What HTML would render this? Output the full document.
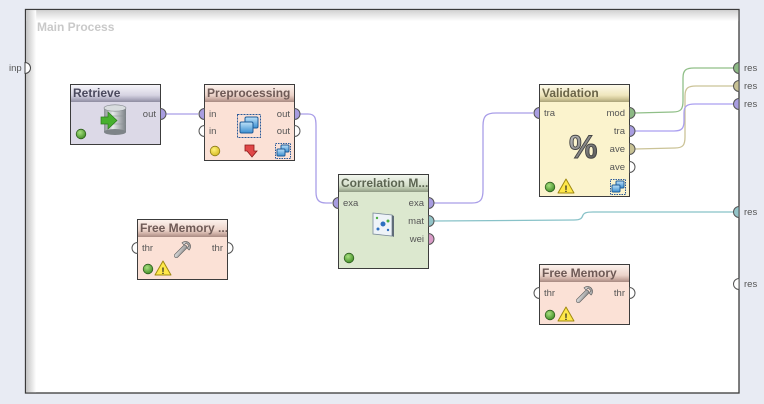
<!DOCTYPE html>
<html><head><meta charset="utf-8"><style>
html,body{margin:0;padding:0;background:#e8ebf3;}
svg{display:block;}
text{font-family:"Liberation Sans",sans-serif;}
.t{font-size:12px;font-weight:bold;}
.p{font-size:9.5px;fill:#555;}
</style></head><body>
<svg width="764" height="404" viewBox="0 0 764 404" xmlns="http://www.w3.org/2000/svg">
<defs>
<linearGradient id="sTop" x1="0" y1="0" x2="0" y2="1"><stop offset="0" stop-color="#d2d2d2"/><stop offset="1" stop-color="#ffffff"/></linearGradient>
<linearGradient id="sLeft" x1="0" y1="0" x2="1" y2="0"><stop offset="0" stop-color="#c4c4c4"/><stop offset="1" stop-color="#ffffff"/></linearGradient>
<linearGradient id="hR" x1="0" y1="0" x2="0" y2="1"><stop offset="0" stop-color="#f6f5fa"/><stop offset="0.6" stop-color="#d6d3e2"/><stop offset="0.8" stop-color="#b3b0c4"/><stop offset="1" stop-color="#8e8ca0"/></linearGradient>
<linearGradient id="hP" x1="0" y1="0" x2="0" y2="1"><stop offset="0" stop-color="#fcf1ec"/><stop offset="0.6" stop-color="#ecd3c9"/><stop offset="0.8" stop-color="#cfb0a6"/><stop offset="1" stop-color="#a88a82"/></linearGradient>
<linearGradient id="hC" x1="0" y1="0" x2="0" y2="1"><stop offset="0" stop-color="#f2f6ee"/><stop offset="0.6" stop-color="#d6e0cc"/><stop offset="0.8" stop-color="#b5c2a8"/><stop offset="1" stop-color="#8f9a84"/></linearGradient>
<linearGradient id="hV" x1="0" y1="0" x2="0" y2="1"><stop offset="0" stop-color="#fdfaea"/><stop offset="0.6" stop-color="#efe6bd"/><stop offset="0.8" stop-color="#d3c99a"/><stop offset="1" stop-color="#aaa27a"/></linearGradient>
<radialGradient id="gd" cx="0.4" cy="0.35" r="0.7"><stop offset="0" stop-color="#a8e080"/><stop offset="1" stop-color="#3d8a22"/></radialGradient>
<radialGradient id="yd" cx="0.4" cy="0.35" r="0.7"><stop offset="0" stop-color="#fff27a"/><stop offset="1" stop-color="#d4b820"/></radialGradient>
<linearGradient id="cyl" x1="0" y1="0" x2="1" y2="0"><stop offset="0" stop-color="#8c9296"/><stop offset="0.4" stop-color="#e6e9ea"/><stop offset="1" stop-color="#7b8186"/></linearGradient>
<linearGradient id="bl" x1="0" y1="0" x2="0" y2="1"><stop offset="0" stop-color="#bfe2f8"/><stop offset="1" stop-color="#3a8ed0"/></linearGradient>
<linearGradient id="pct" x1="0" y1="0" x2="1" y2="1"><stop offset="0" stop-color="#c8c8c8"/><stop offset="1" stop-color="#4a4a4a"/></linearGradient>
<linearGradient id="wr" x1="0" y1="0" x2="1" y2="1"><stop offset="0" stop-color="#e8e8e8"/><stop offset="1" stop-color="#8a8a8a"/></linearGradient>
</defs>

<!-- frame -->
<rect x="25.5" y="9.5" width="713.5" height="383.5" fill="#ffffff" stroke="#3a3a3a" stroke-width="1.3"/>
<rect x="26.2" y="10.2" width="712" height="11" fill="url(#sTop)"/>
<rect x="26.2" y="10.2" width="10" height="382" fill="url(#sLeft)"/>
<text x="37" y="31" class="t" fill="#c9c9c9">Main Process</text>

<!-- connections -->
<g fill="none" stroke-width="1.3">
<path d="M166,114 L198,114" stroke="#a99ee8"/>
<path d="M300,114 L308,114 C315,114 316,118 316,126 L316,192 C316,200 319,203 326,203 L332,203" stroke="#a99ee8"/>
<path d="M434,203 L472,203 C481,203 483,199 483,190 L483,126 C483,116 486,113 496,113 L533,113" stroke="#a99ee8"/>
<path d="M434,221 L574,220 C581,220 582,218 583,215 C584,213 586,212 593,212 L733,212" stroke="#88c2c8"/>
<path d="M635,113 L673,112 C681,112 683,109 683,101 L683,78 C683,70 686,68 694,68 L733,68" stroke="#90bf88"/>
<path d="M635,149 L675,148 C683,148 685,145 685,137 L685,96 C685,88 688,86 696,86 L733,86" stroke="#cbc397"/>
<path d="M635,131 L674,131 C682,131 684,128 684,121 L684,113 C684,106 687,104 695,104 L733,104" stroke="#aa9ff0"/>
</g>

<!-- frame ports -->
<path d="M25,62.5 A5.5,5.5 0 0 1 25,73.5 Z" fill="#fff" stroke="#444" stroke-width="1"/>
<text x="9" y="71" class="p" fill="#444">inp</text>
<g stroke="#555" stroke-width="1">
<path d="M739,62.5 A5.5,5.5 0 0 0 739,73.5 Z" fill="#8cb984"/>
<path d="M739,80.5 A5.5,5.5 0 0 0 739,91.5 Z" fill="#c8c294"/>
<path d="M739,98.5 A5.5,5.5 0 0 0 739,109.5 Z" fill="#a89de0"/>
<path d="M739,206.5 A5.5,5.5 0 0 0 739,217.5 Z" fill="#93c4c8"/>
<path d="M739,278.5 A5.5,5.5 0 0 0 739,289.5 Z" fill="#fff"/>
</g>
<text x="744" y="71" class="p">res</text>
<text x="744" y="89" class="p">res</text>
<text x="744" y="107" class="p">res</text>
<text x="744" y="215" class="p">res</text>
<text x="744" y="287" class="p">res</text>

<!-- Retrieve -->
<rect x="70.5" y="84.5" width="90" height="60" fill="#dcd9e7" stroke="#3c3c3c"/>
<rect x="71" y="85" width="89" height="17" fill="url(#hR)"/>
<text x="73" y="97" class="t" fill="#4b4a5e">Retrieve</text>
<path d="M160.5,108.5 A5.5,5.5 0 0 1 160.5,119.5 Z" fill="#a89de0" stroke="#555"/>
<text x="156" y="117" class="p" text-anchor="end">out</text>
<circle cx="81" cy="134" r="4.8" fill="url(#gd)" stroke="#2f5e20" stroke-width="0.8"/>
<g>
<rect x="104" y="108" width="22" height="24" fill="url(#cyl)"/>
<ellipse cx="115" cy="132" rx="11" ry="3" fill="#7e8488"/>
<ellipse cx="115" cy="108" rx="11" ry="3.2" fill="#d8dcde" stroke="#80868a" stroke-width="0.6"/>
<path d="M104,116 h22 M104,124 h22" stroke="#8a9094" stroke-width="0.6"/>
<path d="M101,117 L108,117 L108,112 L117,120.5 L108,129 L108,124 L101,124 Z" fill="#47b02e" stroke="#2a7a1a" stroke-width="0.7"/>
</g>

<!-- Preprocessing -->
<rect x="204.5" y="84.5" width="90" height="76" fill="#fbe1d6" stroke="#3c3c3c"/>
<rect x="205" y="85" width="89" height="17" fill="url(#hP)"/>
<text x="207" y="97" class="t" fill="#6e5a56">Preprocessing</text>
<path d="M204.5,108.5 A5.5,5.5 0 0 0 204.5,119.5 Z" fill="#a89de0" stroke="#555"/>
<path d="M204.5,125.5 A5.5,5.5 0 0 0 204.5,136.5 Z" fill="#fff" stroke="#555"/>
<path d="M294.5,108.5 A5.5,5.5 0 0 1 294.5,119.5 Z" fill="#a89de0" stroke="#555"/>
<path d="M294.5,125.5 A5.5,5.5 0 0 1 294.5,136.5 Z" fill="#fff" stroke="#555"/>
<text x="209" y="117" class="p">in</text>
<text x="209" y="134" class="p">in</text>
<text x="290" y="117" class="p" text-anchor="end">out</text>
<text x="290" y="134" class="p" text-anchor="end">out</text>
<rect x="237.5" y="114.5" width="23" height="23" fill="none" stroke="#2a5a9a" stroke-dasharray="2,1"/>
<rect x="245" y="117" width="13" height="11" rx="1.5" fill="url(#bl)" stroke="#1f5c98"/>
<rect x="240" y="122" width="13" height="11" rx="1.5" fill="url(#bl)" stroke="#1f5c98"/>
<circle cx="215" cy="151" r="4.8" fill="url(#yd)" stroke="#8a7a18" stroke-width="0.8"/>
<path d="M245,145 h9 v6 h3 l-5,6 l-5,-6 h-2 z" fill="#e04848" stroke="#8a1a1a" stroke-width="0.8"/>
<rect x="275.5" y="143.5" width="15" height="15" fill="none" stroke="#2a5a9a" stroke-dasharray="1.5,1"/>
<rect x="281" y="145" width="8" height="7" rx="1" fill="url(#bl)" stroke="#1f5c98"/>
<rect x="277" y="149" width="8" height="7" rx="1" fill="url(#bl)" stroke="#1f5c98"/>

<!-- Correlation Matrix -->
<rect x="338.5" y="174.5" width="90" height="94" fill="#dce8cf" stroke="#3c3c3c"/>
<rect x="339" y="175" width="89" height="17" fill="url(#hC)"/>
<text x="341" y="187" class="t" fill="#5c6552">Correlation M...</text>
<path d="M338.5,197.5 A5.5,5.5 0 0 0 338.5,208.5 Z" fill="#a89de0" stroke="#555"/>
<path d="M428.5,197.5 A5.5,5.5 0 0 1 428.5,208.5 Z" fill="#a89de0" stroke="#555"/>
<path d="M428.5,215.5 A5.5,5.5 0 0 1 428.5,226.5 Z" fill="#93c4c8" stroke="#555"/>
<path d="M428.5,233.5 A5.5,5.5 0 0 1 428.5,244.5 Z" fill="#d99bc7" stroke="#555"/>
<text x="343" y="206" class="p">exa</text>
<text x="424" y="206" class="p" text-anchor="end">exa</text>
<text x="424" y="224" class="p" text-anchor="end">mat</text>
<text x="424" y="242" class="p" text-anchor="end">wei</text>
<path d="M373,213 L392,215 L392,236 L373,234 Z" fill="#eef3f8" stroke="#7a8a9a" stroke-width="0.8"/>
<path d="M392,215 L394,216 L394,237 L392,236 Z" fill="#606c78"/>
<circle cx="383" cy="224" r="2.5" fill="#2d6fc0"/>
<circle cx="378" cy="229" r="1.5" fill="#2d6fc0"/>
<circle cx="388" cy="221" r="1.5" fill="#4cb040"/>
<circle cx="388" cy="230" r="1.2" fill="#2d6fc0"/>
<circle cx="377" cy="218" r="1.2" fill="#4cb040"/>
<circle cx="349" cy="258" r="4.8" fill="url(#gd)" stroke="#2f5e20" stroke-width="0.8"/>

<!-- Validation -->
<rect x="539.5" y="84.5" width="90" height="112" fill="#fbf3cd" stroke="#3c3c3c"/>
<rect x="540" y="85" width="89" height="17" fill="url(#hV)"/>
<text x="542" y="97" class="t" fill="#6a6448">Validation</text>
<path d="M539.5,107.5 A5.5,5.5 0 0 0 539.5,118.5 Z" fill="#a89de0" stroke="#555"/>
<path d="M629.5,107.5 A5.5,5.5 0 0 1 629.5,118.5 Z" fill="#8cb984" stroke="#555"/>
<path d="M629.5,125.5 A5.5,5.5 0 0 1 629.5,136.5 Z" fill="#a89de0" stroke="#555"/>
<path d="M629.5,143.5 A5.5,5.5 0 0 1 629.5,154.5 Z" fill="#c8c294" stroke="#555"/>
<path d="M629.5,161.5 A5.5,5.5 0 0 1 629.5,172.5 Z" fill="#fff" stroke="#555"/>
<text x="544" y="116" class="p">tra</text>
<text x="625" y="116" class="p" text-anchor="end">mod</text>
<text x="625" y="134" class="p" text-anchor="end">tra</text>
<text x="625" y="152" class="p" text-anchor="end">ave</text>
<text x="625" y="170" class="p" text-anchor="end">ave</text>
<text x="569" y="158" font-size="32" font-weight="bold" fill="url(#pct)" stroke="#444" stroke-width="0.9" style="font-family:'Liberation Sans',sans-serif">%</text>
<circle cx="550" cy="187" r="4.8" fill="url(#gd)" stroke="#2f5e20" stroke-width="0.8"/>
<path d="M566,179 L574,193 L558,193 Z" fill="#ffe84a" stroke="#a08a10" stroke-linejoin="round"/>
<text x="566" y="192" font-size="9" font-weight="bold" text-anchor="middle" fill="#222">!</text>
<rect x="610.5" y="179.5" width="15" height="15" fill="none" stroke="#2a5a9a" stroke-dasharray="1.5,1"/>
<rect x="616" y="181" width="8" height="7" rx="1" fill="url(#bl)" stroke="#1f5c98"/>
<rect x="612" y="185" width="8" height="7" rx="1" fill="url(#bl)" stroke="#1f5c98"/>

<!-- Free Memory ... -->
<rect x="137.5" y="219.5" width="90" height="60" fill="#fbe1d6" stroke="#3c3c3c"/>
<rect x="138" y="220" width="89" height="17" fill="url(#hP)"/>
<text x="140" y="232" class="t" fill="#6e5a56">Free Memory ...</text>
<path d="M137.5,242.5 A5.5,5.5 0 0 0 137.5,253.5 Z" fill="#fff" stroke="#555"/>
<path d="M227.5,242.5 A5.5,5.5 0 0 1 227.5,253.5 Z" fill="#fff" stroke="#555"/>
<text x="142" y="251" class="p">thr</text>
<text x="223" y="251" class="p" text-anchor="end">thr</text>
<g transform="translate(182,250) rotate(-45)">
<rect x="-10" y="-2" width="16" height="4" rx="2" fill="url(#wr)" stroke="#666" stroke-width="0.7"/>
<path d="M5,-5 a5,5 0 1 1 0,10 l0,-3 l3,0 l0,-4 l-3,0 z" fill="url(#wr)" stroke="#666" stroke-width="0.7"/>
</g>
<circle cx="148" cy="269" r="4.8" fill="url(#gd)" stroke="#2f5e20" stroke-width="0.8"/>
<path d="M163,261 L171,275 L155,275 Z" fill="#ffe84a" stroke="#a08a10" stroke-linejoin="round"/>
<text x="163" y="274" font-size="9" font-weight="bold" text-anchor="middle" fill="#222">!</text>

<!-- Free Memory -->
<rect x="539.5" y="264.5" width="90" height="60" fill="#fbe1d6" stroke="#3c3c3c"/>
<rect x="540" y="265" width="89" height="17" fill="url(#hP)"/>
<text x="542" y="277" class="t" fill="#6e5a56">Free Memory</text>
<path d="M539.5,287.5 A5.5,5.5 0 0 0 539.5,298.5 Z" fill="#fff" stroke="#555"/>
<path d="M629.5,287.5 A5.5,5.5 0 0 1 629.5,298.5 Z" fill="#fff" stroke="#555"/>
<text x="544" y="296" class="p">thr</text>
<text x="625" y="296" class="p" text-anchor="end">thr</text>
<g transform="translate(584,295) rotate(-45)">
<rect x="-10" y="-2" width="16" height="4" rx="2" fill="url(#wr)" stroke="#666" stroke-width="0.7"/>
<path d="M5,-5 a5,5 0 1 1 0,10 l0,-3 l3,0 l0,-4 l-3,0 z" fill="url(#wr)" stroke="#666" stroke-width="0.7"/>
</g>
<circle cx="550" cy="315" r="4.8" fill="url(#gd)" stroke="#2f5e20" stroke-width="0.8"/>
<path d="M566,307 L574,321 L558,321 Z" fill="#ffe84a" stroke="#a08a10" stroke-linejoin="round"/>
<text x="566" y="320" font-size="9" font-weight="bold" text-anchor="middle" fill="#222">!</text>
</svg>
</body></html>
